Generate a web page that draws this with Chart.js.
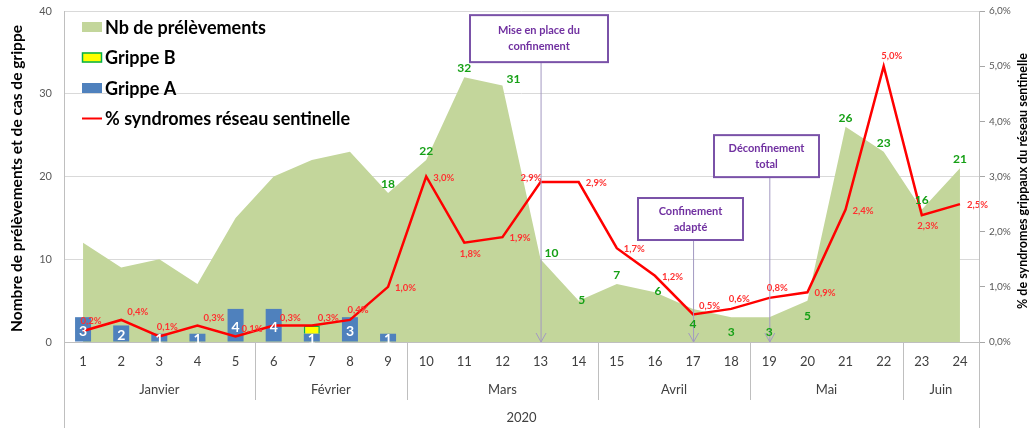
<!DOCTYPE html>
<html>
<head>
<meta charset="utf-8">
<script src="https://cdn.jsdelivr.net/npm/chart.js@4.4.1/dist/chart.umd.min.js"></script>
<style>
  html, body { margin: 0; padding: 0; background: #fff; }
  #wrap { width: 1035px; height: 428px; }
</style>
</head>
<body>
<div id="wrap"><canvas id="elGrafico" width="1035" height="428"></canvas></div>
<script>
// semaines 2020
const semaines = ['1','2','3','4','5','6','7','8','9','10','11','12','13','14','15','16','17','18','19','20','21','22','23','24']
const prelevements = [12, 9, 10, 7, 15, 20, 22, 23, 18, 22, 32, 31, 10, 5, 7, 6, 4, 3, 3, 5, 26, 23, 16, 21]
const grippeA = [3, 2, 1, 1, 4, 4, 1, 3, 1, null, null, null, null, null, null, null, null, null, null, null, null, null, null, null]
const grippeB = [null, null, null, null, null, null, 1, null, null, null, null, null, null, null, null, null, null, null, null, null, null, null, null, null]
const syndromes = [0.2, 0.4, 0.1, 0.3, 0.1, 0.3, 0.3, 0.4, 1.0, 3.0, 1.8, 1.9, 2.9, 2.9, 1.7, 1.2, 0.5, 0.6, 0.8, 0.9, 2.4, 5.0, 2.3, 2.5]

const mois = ['Janvier', 'Février', 'Mars', 'Avril', 'Mai', 'Juin']
const moisDebut = [1, 6, 10, 15, 19, 23]
const annee = '2020'

// annotations : semaine, texte, haut de la boite (valeur axe gauche)
const evenementsSemaine = [13, 17, 19]
const evenementsTexte = [['Mise en place du', 'confinement'], ['Confinement', 'adapté'], ['Déconfinement', 'total']]
const evenementsHaut = [39.5, 17.4, 25]

// placement des etiquettes
const premiereEtiquetteNb = 9
const posNb = ['above','above','above','right','right','center','above','center','below','below','below','below','above','above','above','above']
const posSyn = ['above','upright','above','upright','upright','upright','upright','above','right','right','below','right','left','right','right','right','upright','above','above','right','right','above','below','right']

const FONT = 'Lato, "Open Sans", sans-serif'
const pct = (v) => v.toFixed(1).replace('.', ',') + '%'

const decor = {
    id: 'decor',
    afterDatasetsDraw(chart) {
        const ctx = chart.ctx
        const { x, y } = chart.scales
        const ca = chart.chartArea
        ctx.save()

        // annotations
        evenementsSemaine.forEach((s, i) => {
            const px = x.getPixelForValue(s - 1)
            const top = y.getPixelForValue(evenementsHaut[i])
            const wBox = i === 0 ? 138 : 105
            const h2 = i === 0 ? 47 : 42
            const bx = Math.round(px - wBox / 2 + (i === 0 ? -2 : -3))
            ctx.strokeStyle = '#a399c2'
            ctx.lineWidth = 1
            ctx.beginPath()
            ctx.moveTo(px + 0.5, top + h2)
            ctx.lineTo(px + 0.5, ca.bottom)
            ctx.stroke()
            ctx.beginPath()
            ctx.moveTo(px - 4.5, ca.bottom - 9)
            ctx.lineTo(px + 0.5, ca.bottom)
            ctx.lineTo(px + 5.5, ca.bottom - 9)
            ctx.stroke()
            ctx.fillStyle = '#fff'
            ctx.fillRect(bx, top, wBox, h2)
            ctx.strokeStyle = '#7a52a8'
            ctx.lineWidth = 2
            ctx.strokeRect(bx, top, wBox, h2)
            ctx.fillStyle = '#7030a0'
            ctx.font = 'bold 11px ' + FONT
            ctx.textAlign = 'center'
            ctx.textBaseline = 'middle'
            evenementsTexte[i].forEach((t, j) => {
                ctx.fillText(t, bx + wBox / 2, top + h2 / 2 - 8 + j * 16)
            })
        })

        // etiquettes barres grippe A
        const metaA = chart.getDatasetMeta(1)
        ctx.fillStyle = '#fff'
        ctx.font = 'bold 14px ' + FONT
        ctx.textAlign = 'center'
        ctx.textBaseline = 'middle'
        grippeA.forEach((v, i) => {
            if (v == null) return
            const bar = metaA.data[i]
            ctx.fillText(String(v), bar.x, (bar.y + bar.base) / 2 + 2)
        })

        // etiquettes nb de prelevements
        const metaNb = chart.getDatasetMeta(3)
        ctx.fillStyle = '#16a016'
        ctx.font = 'bold 12px ' + FONT
        prelevements.forEach((v, i) => {
            if (i + 1 < premiereEtiquetteNb) return
            const p = metaNb.data[i]
            const pos = posNb[i + 1 - premiereEtiquetteNb]
            let dx = 0, dy = -9
            if (pos === 'right') { dx = 11; dy = -6 }
            if (pos === 'center') { dx = 3; dy = -1 }
            if (pos === 'below') { dx = 0; dy = 15 }
            ctx.fillText(String(v), p.x + dx, p.y + dy)
        })

        // etiquettes %
        const metaS = chart.getDatasetMeta(0)
        ctx.fillStyle = '#ff3030'
        ctx.font = 'bold 9.5px ' + FONT
        syndromes.forEach((v, i) => {
            const p = metaS.data[i]
            const pos = posSyn[i]
            if (pos === 'right') { ctx.textAlign = 'left'; ctx.fillText(pct(v), p.x + 7, p.y + 1) }
            if (pos === 'upright') { ctx.textAlign = 'left'; ctx.fillText(pct(v), p.x + 6, p.y - 8) }
            if (pos === 'above') { ctx.textAlign = 'center'; ctx.fillText(pct(v), p.x + 8, p.y - 10) }
            if (pos === 'below') { ctx.textAlign = 'center'; ctx.fillText(pct(v), p.x + 6, p.y + 11) }
            if (pos === 'left') { ctx.textAlign = 'right'; ctx.fillText(pct(v), p.x + 1, p.y - 4) }
        })
        ctx.restore()
    },
    afterDraw(chart) {
        const ctx = chart.ctx
        const { x } = chart.scales
        const ca = chart.chartArea
        const H = chart.height
        ctx.save()

        // lignes verticales de l'axe
        ctx.strokeStyle = '#bfbfbf'
        ctx.lineWidth = 1
        ctx.beginPath()
        ctx.moveTo(Math.round(ca.left) + 0.5, ca.top)
        ctx.lineTo(Math.round(ca.left) + 0.5, H)
        ctx.moveTo(Math.round(ca.right) + 0.5, ca.top)
        ctx.lineTo(Math.round(ca.right) + 0.5, H)
        ctx.stroke()

        // mois
        ctx.font = '13px ' + FONT
        ctx.fillStyle = '#404040'
        ctx.textAlign = 'center'
        ctx.textBaseline = 'middle'
        mois.forEach((m, k) => {
            const first = moisDebut[k] - 1
            const last = k + 1 < mois.length ? moisDebut[k + 1] - 2 : semaines.length - 1
            const left = x.getPixelForValue(first) - x.width / semaines.length / 2
            const right = x.getPixelForValue(last) + x.width / semaines.length / 2
            ctx.fillText(m, (left + right) / 2, 390)
            if (k > 0) {
                ctx.beginPath()
                ctx.moveTo(Math.round(left) + 0.5, ca.bottom)
                ctx.lineTo(Math.round(left) + 0.5, 400)
                ctx.stroke()
            }
        })
        ctx.fillText(annee, (ca.left + ca.right) / 2, 418)

        // titres des axes
        ctx.fillStyle = '#000'
        ctx.font = 'bold 15.5px ' + FONT
        ctx.save()
        ctx.translate(17, (ca.top + ca.bottom) / 2 + 2)
        ctx.rotate(-Math.PI / 2)
        ctx.fillText('Nombre de prélèvements et de cas de grippe', 0, 0)
        ctx.restore()
        ctx.font = 'bold 12.5px ' + FONT
        ctx.save()
        ctx.translate(1023, 181)
        ctx.rotate(-Math.PI / 2)
        ctx.fillText('% de syndromes grippaux du réseau sentinelle', 0, 0)
        ctx.restore()

        // legende
        const items = [3, 2, 1, 0]
        ctx.font = 'bold 18px ' + FONT
        ctx.textAlign = 'left'
        items.forEach((idx, j) => {
            const ds = chart.data.datasets[idx]
            const cy = 27 + j * 30.5
            if (ds.type === 'line' && !ds.fill) {
                ctx.strokeStyle = ds.borderColor
                ctx.lineWidth = 2
                ctx.beginPath()
                ctx.moveTo(82, cy)
                ctx.lineTo(102, cy)
                ctx.stroke()
            } else {
                ctx.fillStyle = ds.backgroundColor
                ctx.fillRect(82, cy - 5, 20, 10)
                if (ds.borderWidth) {
                    ctx.strokeStyle = ds.borderColor
                    ctx.lineWidth = 1.5
                    ctx.strokeRect(82.5, cy - 4.5, 19, 9)
                }
            }
            ctx.fillStyle = '#000'
            ctx.fillText(ds.label, 105, cy + 1)
        })
        ctx.restore()
    }
}

new Chart('elGrafico', {
    type: 'bar',
    data: {
        labels: semaines,
        datasets: [
            {
                type: 'line',
                label: '% syndromes réseau sentinelle',
                data: syndromes,
                yAxisID: 'y1',
                borderColor: '#ff0000',
                borderWidth: 2.5,
                pointRadius: 0,
                tension: 0,
                fill: false,
                order: 0
            },
            {
                label: 'Grippe A',
                data: grippeA,
                backgroundColor: '#4f81bd',
                stack: 'grippe',
                barPercentage: 0.42,
                categoryPercentage: 1,
                order: 1
            },
            {
                label: 'Grippe B',
                data: grippeB,
                backgroundColor: '#ffff00',
                borderColor: '#00b050',
                borderWidth: 1.5,
                stack: 'grippe',
                barPercentage: 0.42,
                categoryPercentage: 1,
                order: 1
            },
            {
                type: 'line',
                label: 'Nb de prélèvements',
                data: prelevements,
                stack: 'nb',
                backgroundColor: '#c3d69b',
                borderWidth: 0,
                pointRadius: 0,
                tension: 0,
                fill: 'origin',
                order: 2
            }
        ]
    },
    options: {
        responsive: false,
        animation: false,
        layout: { padding: { top: 11, right: 0, left: 0, bottom: 0 } },
        plugins: {
            legend: { display: false },
            tooltip: { enabled: false }
        },
        scales: {
            x: {
                stacked: true,
                grid: { display: false, drawTicks: false },
                border: { color: '#bfbfbf' },
                ticks: { color: '#404040', font: { family: FONT, size: 13 }, padding: 12, maxRotation: 0, autoSkip: false },
                afterFit: (s) => { s.height = 86; s.paddingLeft = 0; s.paddingRight = 0 }
            },
            y: {
                stacked: true,
                min: 0,
                max: 40,
                position: 'left',
                grid: { color: '#d9d9d9', drawTicks: false, tickLength: 0 },
                border: { display: false },
                ticks: { stepSize: 10, color: '#595959', font: { family: FONT, size: 11 }, padding: 12 },
                afterFit: (s) => { s.width = 64; s.paddingTop = 0; s.paddingBottom = 0 }
            },
            y1: {
                min: 0,
                max: 6,
                position: 'right',
                grid: { drawOnChartArea: false, color: '#a6a6a6', tickLength: 6 },
                border: { display: false },
                ticks: { stepSize: 1, color: '#595959', font: { family: FONT, size: 10 }, padding: 4, callback: (v) => pct(v) },
                afterFit: (s) => { s.width = 56; s.paddingTop = 0; s.paddingBottom = 0 }
            }
        }
    },
    plugins: [decor]
})
</script>
</body>
</html>
